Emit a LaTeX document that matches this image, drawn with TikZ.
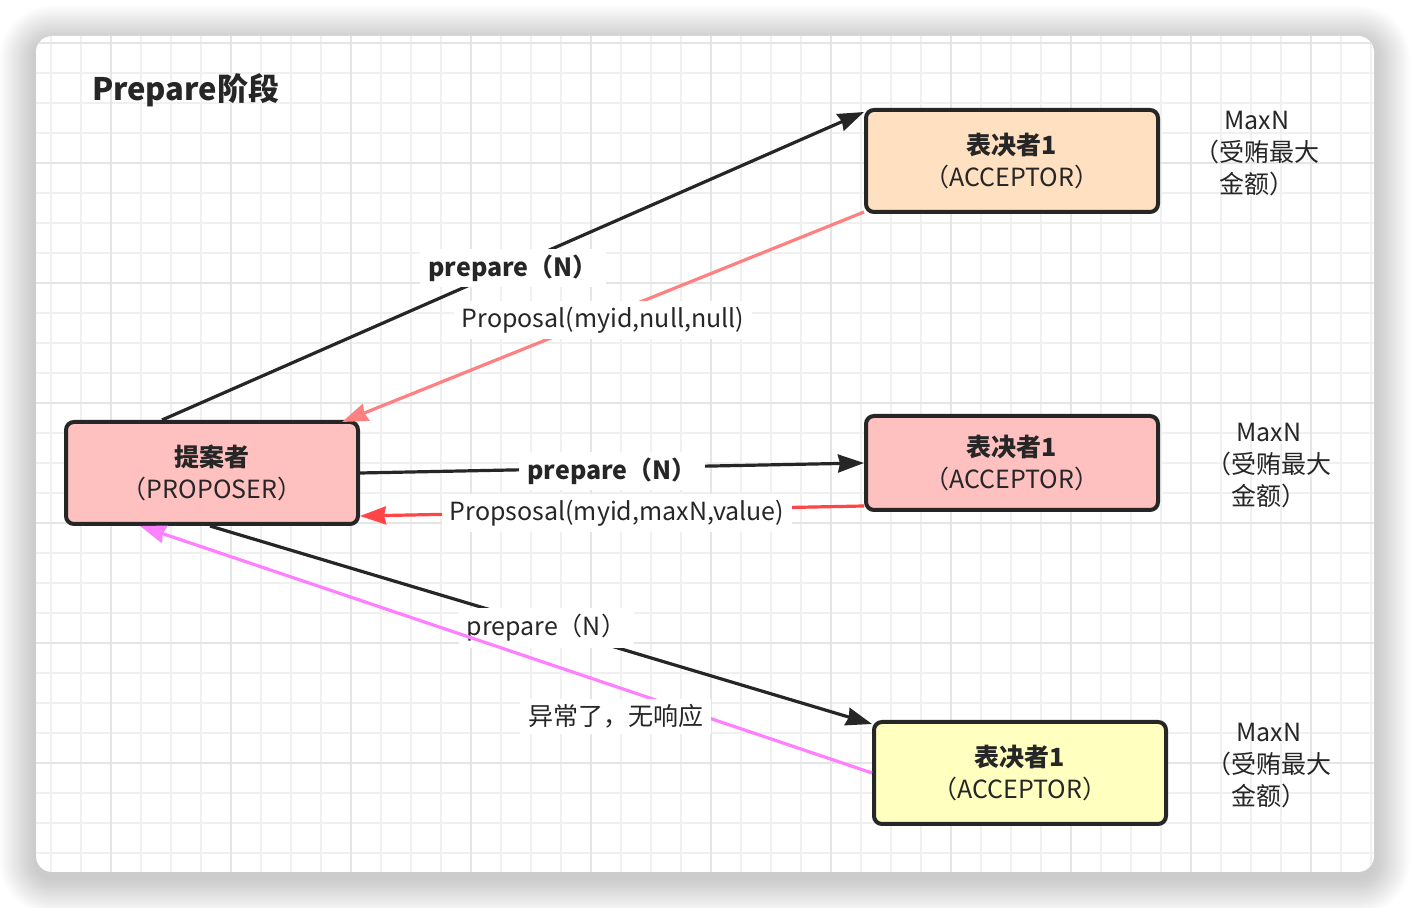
\documentclass[tikz,border=0pt]{standalone}
\usepackage{fontspec}
\setmainfont{Noto Sans CJK SC}
\usepackage{tikz}
\usetikzlibrary{arrows.meta,positioning}

\definecolor{ink}{HTML}{262626}
\definecolor{peach}{HTML}{FFE0C0}
\definecolor{rose}{HTML}{FFC0C0}
\definecolor{cream}{HTML}{FFFFC0}
\definecolor{replypink}{HTML}{FF8080}
\definecolor{replyred}{HTML}{FF4545}
\definecolor{lostpink}{HTML}{FF80FF}
\definecolor{gridminor}{HTML}{F0F0F0}
\definecolor{gridmajor}{HTML}{E5E5E5}

\begin{document}
\begin{tikzpicture}[
    x=0.5pt, y=-0.5pt,
    role/.style={draw=ink, line width=2pt, rounded corners=4pt, align=center, text=ink,
        minimum width=146pt, minimum height=51pt, font=\fontsize{12.5}{16}\selectfont},
    note/.style={align=center, text=ink, font=\fontsize{12.5}{16}\selectfont},
    tag/.style={fill=white, inner xsep=4pt, inner ysep=3pt, text=ink, font=\fontsize{12.5}{15}\selectfont},
    arr/.style={-{Stealth[length=13pt, width=9pt, inset=1pt]}, line width=1.6pt}
]
\useasboundingbox (0,0) rectangle (1410,908);

\foreach \i in {1,...,18}
  \fill[black, opacity=0.011, rounded corners=8pt+\i pt]
    (36-2*\i,42-2*\i) rectangle (1374+2*\i,878+2*\i);
\fill[white, rounded corners=8pt] (36,36) rectangle (1374,872);
\begin{scope}
  \clip[rounded corners=8pt] (36,36) rectangle (1374,872);
  \foreach \x in {50.7,80.7,...,1372} \draw[gridminor, line width=1pt] (\x,36) -- (\x,872);
  \foreach \y in {72.7,102.7,...,870} \draw[gridminor, line width=1pt] (36,\y) -- (1374,\y);
  \foreach \x in {110.7,230.7,...,1372} \draw[gridmajor, line width=1pt] (\x,36) -- (\x,872);
  \foreach \y in {42.7,162.7,...,870} \draw[gridmajor, line width=1pt] (36,\y) -- (1374,\y);
\end{scope}

\node[anchor=west, text=ink, font=\fontsize{15.5}{18}\selectfont\bfseries] (title) at (85,90) {Prepare阶段};

\node[role, fill=rose] (prop) at (212,473) {\textbf{提案者}\\（PROPOSER）};
\node[role, fill=peach] (acc1) at (1012,161) {\textbf{表决者1}\\（ACCEPTOR）};
\node[role, fill=rose, minimum height=47pt] (acc2) at (1012,463) {\textbf{表决者1}\\（ACCEPTOR）};
\node[role, fill=cream] (acc3) at (1020,773) {\textbf{表决者1}\\（ACCEPTOR）};

\node[note] (max1) at (1257,154) {MaxN\\（受贿最大\\金额）};
\node[note] (max2) at (1269,466) {MaxN\\（受贿最大\\金额）};
\node[note] (max3) at (1269,766) {MaxN\\（受贿最大\\金额）};

\draw[arr, ink] ([xshift=-25pt]prop.north) -- ([yshift=-2pt]acc1.north west)
    node[tag, pos=0.5, yshift=-1pt, font=\fontsize{12.5}{15}\selectfont\bfseries] (ask1) {prepare（N）};
\draw[arr, replypink] ([yshift=1pt]acc1.south west) -- ([xshift=-9pt,yshift=-1pt]prop.north east)
    node[tag, pos=0.5, yshift=-1.5pt] (ans1) {Proposal(myid,null,null)};
\draw[arr, ink] (prop.east) -- (acc2.west)
    node[tag, pos=0.5, yshift=-1.5pt, font=\fontsize{12.5}{15}\selectfont\bfseries] (ask2) {prepare（N）};
\draw[arr, replyred] ([yshift=3pt]acc2.south west) -- ([yshift=5pt]prop.south east)
    node[tag, pos=0.49, yshift=-1pt] (ans2) {Propsosal(myid,maxN,value)};
\draw[arr, ink] ([xshift=-1pt]prop.south) -- ([yshift=-2pt]acc3.north west)
    node[tag, pos=0.49, yshift=-2.5pt, xshift=6pt] (ask3) {prepare（N）};
\draw[arr, lostpink] (acc3.west) -- ([xshift=-36pt]prop.south)
    node[tag, pos=0.35, yshift=-15pt] (ans3) {异常了，无响应};
\end{tikzpicture}
\end{document}
